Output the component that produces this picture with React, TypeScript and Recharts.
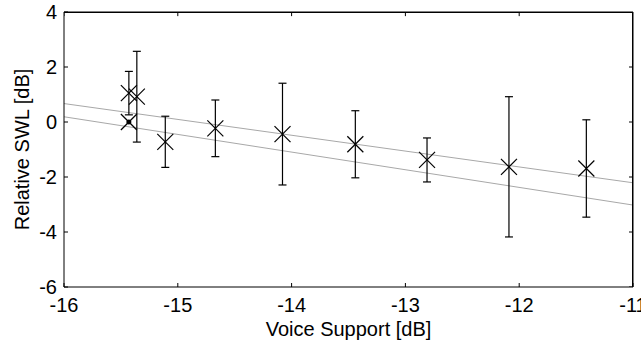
import {
  ComposedChart, Scatter, ErrorBar, XAxis, YAxis, ReferenceLine, Label, CartesianGrid,
} from 'recharts'

// measured points: voice support [dB], relative SWL [dB], +/- error [dB]
const voiceSupport = [-15.43, -15.43, -15.36, -15.11, -14.67, -14.08, -13.44, -12.81, -12.09, -11.41]
const relSwl = [0, 1.05, 0.92, -0.72, -0.23, -0.44, -0.81, -1.38, -1.63, -1.69]
const swlErr = [0, 0.79, 1.65, 0.93, 1.03, 1.85, 1.22, 0.8, 2.55, 1.77]

// two grey regression lines, end points at the x limits
const upperFit = [{ x: -16, y: 0.67 }, { x: -11, y: -2.21 }]
const lowerFit = [{ x: -16, y: 0.19 }, { x: -11, y: -3.02 }]

const xTicks = [-16, -15, -14, -13, -12, -11]
const yTicks = [-6, -4, -2, 0, 2, 4]
const X_MIN = -16
const X_MAX = -11
const Y_MIN = -6
const Y_MAX = 4

const data = voiceSupport.map((x, i) => ({ x, y: relSwl[i], err: swlErr[i] }))

const FONT = 'Arial, "Liberation Sans", sans-serif'
const FS = 20
const TICK = 4
// tick length in data units (about 4px for this plot size)
const TICK_Y = 0.15
const TICK_X = 0.035

function Cross(props: any) {
  const { cx, cy, payload } = props
  const s = 8
  return (
    <g>
      <line x1={cx - s} y1={cy - s} x2={cx + s} y2={cy + s} stroke="#000" strokeWidth={1.2} />
      <line x1={cx - s} y1={cy + s} x2={cx + s} y2={cy - s} stroke="#000" strokeWidth={1.2} />
      {payload.err === 0 && <circle cx={cx} cy={cy} r={2.5} fill="#000" />}
    </g>
  )
}

function XTick(props: any) {
  const { x, y, payload } = props
  return (
    <text x={x} y={y} dy="0.71em" textAnchor="middle" fontSize={FS} fontFamily={FONT} fill="#000">
      {payload.value}
    </text>
  )
}

function YTick(props: any) {
  const { x, y, payload } = props
  return (
    <text x={x} y={y} dy="0.355em" textAnchor="end" fontSize={FS} fontFamily={FONT} fill="#000">
      {payload.value}
    </text>
  )
}

export default function App() {
  return (
    <div style={{ position: 'absolute', left: 0, top: 0, background: '#fff' }}>
      <ComposedChart
        width={641}
        height={342}
        data={data}
        margin={{ top: 12, right: 8, bottom: 5, left: 0 }}
      >
        {/* top and right edges of the box */}
        <CartesianGrid xAxisId="x" yAxisId="y" stroke="#000" strokeDasharray=""
          horizontalValues={[Y_MAX]} verticalValues={[X_MAX]} />

        <XAxis xAxisId="x" dataKey="x" type="number" domain={[X_MIN, X_MAX]} ticks={xTicks}
          allowDataOverflow height={50} tickSize={-TICK} tickMargin={15}
          tickLine={{ stroke: '#000' }} axisLine={{ stroke: '#000' }}
          tick={XTick} interval={0}>
          <Label value="Voice Support [dB]" position="insideBottom" offset={1}
            fontSize={FS} fill="#000" fontFamily={FONT} />
        </XAxis>
        <YAxis yAxisId="y" dataKey="y" type="number" domain={[Y_MIN, Y_MAX]} ticks={yTicks}
          allowDataOverflow width={64} tickSize={-TICK} tickMargin={11}
          tickLine={{ stroke: '#000' }} axisLine={{ stroke: '#000' }}
          tick={YTick} interval={0}>
          <Label value="Relative SWL [dB]" position="insideLeft" angle={-90} offset={22}
            fontSize={FS} fill="#000" fontFamily={FONT} style={{ textAnchor: 'middle' }} />
        </YAxis>

        <ReferenceLine xAxisId="x" yAxisId="y" segment={upperFit} stroke="#a8a8a8" strokeWidth={1} ifOverflow="hidden" />
        <ReferenceLine xAxisId="x" yAxisId="y" segment={lowerFit} stroke="#a8a8a8" strokeWidth={1} ifOverflow="hidden" />

        {/* box edges again (clipped to plot) plus inward ticks on top and right */}
        <ReferenceLine xAxisId="x" yAxisId="y" stroke="#000" strokeWidth={2} ifOverflow="hidden"
          segment={[{ x: X_MIN, y: Y_MAX }, { x: X_MAX, y: Y_MAX }]} />
        <ReferenceLine xAxisId="x" yAxisId="y" stroke="#000" strokeWidth={2} ifOverflow="hidden"
          segment={[{ x: X_MAX, y: Y_MIN }, { x: X_MAX, y: Y_MAX }]} />
        {xTicks.map(t => (
          <ReferenceLine key={`tx${t}`} xAxisId="x" yAxisId="y" stroke="#000" ifOverflow="hidden"
            segment={[{ x: t, y: Y_MAX }, { x: t, y: Y_MAX - TICK_Y }]} />
        ))}
        {yTicks.map(t => (
          <ReferenceLine key={`ty${t}`} xAxisId="x" yAxisId="y" stroke="#000" ifOverflow="hidden"
            segment={[{ x: X_MAX - TICK_X, y: t }, { x: X_MAX, y: t }]} />
        ))}

        <Scatter xAxisId="x" yAxisId="y" dataKey="y" shape={Cross} isAnimationActive={false}>
          <ErrorBar dataKey="err" direction="y" width={4} stroke="#000" strokeWidth={1.2} />
        </Scatter>
      </ComposedChart>
    </div>
  )
}
